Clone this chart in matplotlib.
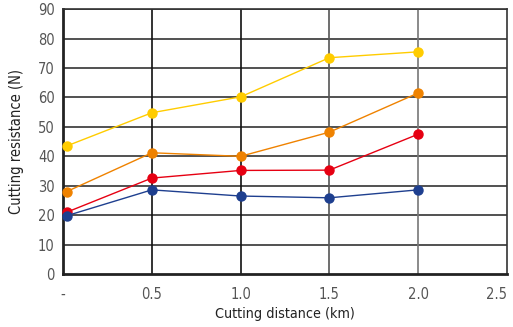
import matplotlib
matplotlib.use('Agg')
import matplotlib.pyplot as plt

# cutting distance (km) and resistance (N) for each series
distance = [0.02, 0.5, 1.0, 1.5, 2.0]
yellow = [43.5, 54.8, 60.2, 73.5, 75.5]
orange = [28.0, 41.2, 40.0, 48.2, 61.5]
red = [21.0, 32.6, 35.2, 35.3, 47.5]
blue = [19.8, 28.6, 26.5, 25.9, 28.6]

xticks = [0, 0.5, 1.0, 1.5, 2.0, 2.5]
xticklabels = ['-', '0.5', '1.0', '1.5', '2.0', '2.5']
yticks = list(range(0, 91, 10))

plt.rcParams['font.family'] = ['DejaVu Sans']
plt.rcParams['font.stretch'] = 'condensed'

fig = plt.figure(figsize=(5.13, 3.27), dpi=100)
ax = fig.add_axes([0.123, 0.162, 0.865, 0.81])

# grid lines
for y in yticks[1:]:
    ax.axhline(y, color='#222222', lw=1.1, zorder=1)
for x, c in zip([0.5, 1.0, 1.5, 2.0], ['#111111', '#111111', '#555555', '#777777']):
    ax.axvline(x, color=c, lw=1.2, zorder=1)

for vals, col in [(yellow, '#FFCC00'), (orange, '#EF8200'),
                  (red, '#E60012'), (blue, '#1E3F8F')]:
    ax.plot(distance, vals, color=col, lw=1.0, marker='o', ms=6.5,
            zorder=3, clip_on=False)

ax.set_xlim(0, 2.5)
ax.set_ylim(0, 90)
ax.set_xticks(xticks)
ax.set_xticklabels(xticklabels)
ax.set_yticks(yticks)
ax.tick_params(length=0, labelsize=10.5, labelcolor='#555555', pad=6)
ax.tick_params(axis='x', pad=9)
# last label sits against the figure edge
ax.get_xticklabels()[-1].set_ha('right')

for s in ['left', 'bottom']:
    ax.spines[s].set_linewidth(2)
    ax.spines[s].set_color('#222222')
for s in ['top', 'right']:
    ax.spines[s].set_linewidth(1.2)
    ax.spines[s].set_color('#333333')

ax.set_xlabel('Cutting distance (km)', fontsize=10.3, color='#222222', labelpad=4)
ax.set_ylabel('Cutting resistance (N)', fontsize=10.5, color='#222222', labelpad=10)

fig.savefig('out.png', dpi=100)
